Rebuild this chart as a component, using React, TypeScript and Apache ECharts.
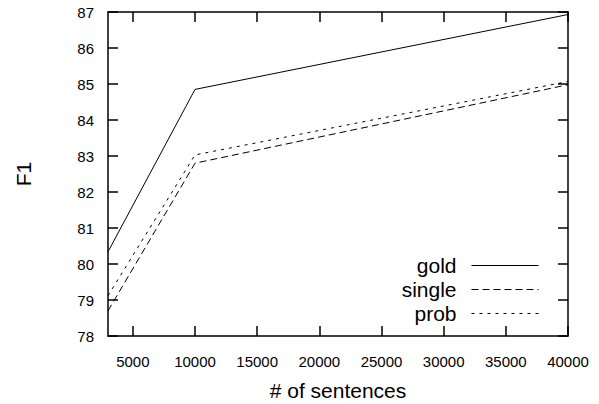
import React, { useEffect, useRef } from "react";
import * as echarts from "echarts";

const xValues = [3000, 10000, 40000];
const goldF1 = [80.34, 84.85, 86.93];
const singleF1 = [78.7, 82.8, 84.98];
const probF1 = [79.12, 83.03, 85.07];
const xTicks = [5000, 10000, 15000, 20000, 25000, 30000, 35000, 40000];

const FONT = "'Liberation Sans', Arial, Helvetica, sans-serif";

export default function App() {
  const ref = useRef<HTMLDivElement>(null);
  useEffect(() => {
    if (!ref.current) return;
    const chart = echarts.init(ref.current, undefined, { renderer: "svg" });
    const mk = (ys: number[]) => xValues.map((x, i) => [x, ys[i]]);
    const axisLine = { show: true, lineStyle: { color: "#000", width: 1.5 } };
    const tick = { show: true, inside: true, length: 10, lineStyle: { color: "#000", width: 1.5 } };
    chart.setOption({
      animation: false,
      backgroundColor: "#fff",
      textStyle: { fontFamily: FONT },
      grid: { left: 108, right: 31, top: 12, bottom: 68, containLabel: false, outerBoundsMode: "none" },
      legend: {
        orient: "vertical",
        align: "right",
        right: 60,
        top: 255,
        padding: 0,
        itemWidth: 67,
        itemHeight: 14,
        itemGap: 3,
        selectedMode: false,
        itemStyle: { color: "rgba(0,0,0,0)", borderWidth: 0, opacity: 0 },
        lineStyle: { width: 1 },
        textStyle: { fontSize: 21, lineHeight: 21, color: "#000", fontFamily: FONT, padding: [0, 10, 0, 0] },
        data: ["gold", "single", "prob"],
      },
      xAxis: [
        {
          type: "value",
          min: 3000,
          max: 40000,
          position: "bottom",
          axisLine,
          axisTick: { ...tick, customValues: xTicks },
          splitLine: { show: false },
          axisLabel: {
            customValues: xTicks,
            fontSize: 15,
            color: "#000",
            margin: 18,
            fontFamily: FONT,
            formatter: (v: number) => String(v),
          },
          name: "# of sentences",
          nameLocation: "middle",
          nameGap: 44,
          nameTextStyle: { fontSize: 21, lineHeight: 21, color: "#000", fontFamily: FONT },
        },
        {
          type: "value",
          min: 3000,
          max: 40000,
          position: "top",
          axisLine,
          axisTick: { ...tick, customValues: xTicks },
          splitLine: { show: false },
          axisLabel: { show: false },
        },
      ],
      yAxis: [
        {
          type: "value",
          min: 78,
          max: 87,
          interval: 1,
          position: "left",
          axisLine,
          axisTick: tick,
          splitLine: { show: false },
          axisLabel: { fontSize: 15, color: "#000", margin: 14, fontFamily: FONT },
          name: "F1",
          nameLocation: "middle",
          nameGap: 74,
          nameTextStyle: { fontSize: 21, color: "#000", fontFamily: FONT },
        },
        {
          type: "value",
          min: 78,
          max: 87,
          interval: 1,
          position: "right",
          axisLine,
          axisTick: tick,
          splitLine: { show: false },
          axisLabel: { show: false },
        },
      ],
      series: [
        {
          name: "gold",
          type: "line",
          data: mk(goldF1),
          symbol: "none",
          clip: true,
          lineStyle: { color: "#000", width: 1, type: "solid" },
          itemStyle: { color: "#000" },
        },
        {
          name: "single",
          type: "line",
          data: mk(singleF1),
          symbol: "none",
          clip: true,
          lineStyle: { color: "#000", width: 1, type: [7, 4] },
          itemStyle: { color: "#000" },
        },
        {
          name: "prob",
          type: "line",
          data: mk(probF1),
          symbol: "none",
          clip: true,
          lineStyle: { color: "#000", width: 1, type: [3, 5] },
          itemStyle: { color: "#000" },
        },
      ],
    });
    return () => chart.dispose();
  }, []);
  return <div ref={ref} style={{ width: 599, height: 404, position: "absolute", left: 0, top: 0 }} />;
}
